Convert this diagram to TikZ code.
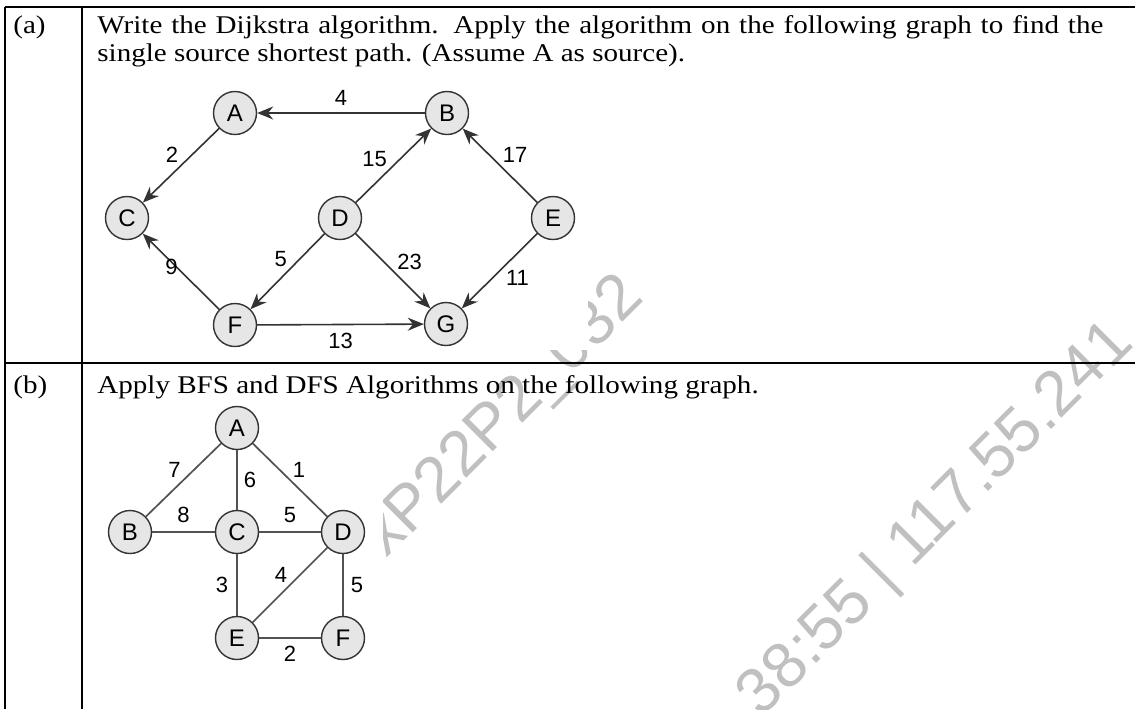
\documentclass[tikz,border=0pt]{standalone}
\usepackage{fontspec}
\setmainfont{Liberation Serif}[FakeStretch=1.14]
\setsansfont{Liberation Sans}
\usetikzlibrary{arrows.meta}
\definecolor{edgegray}{HTML}{333333}
\definecolor{nodefill}{HTML}{E6E6E6}
\definecolor{markgray}{HTML}{C0C0C0}
\tikzset{
  rule/.style={
    draw=black,
    line width=0.9pt
  },
  vertex/.style={
    circle,
    draw=edgegray,
    fill=nodefill,
    line width=0.7pt,
    minimum size=21.5pt,
    inner sep=0pt,
    font=\sffamily\fontsize{12}{14}\selectfont
  },
  diedge/.style={
    draw=edgegray,
    line width=0.8pt,
    -{Stealth[length=8pt,width=6.5pt]}
  },
  undedge/.style={
    draw=edgegray!85,
    line width=0.85pt
  },
  weight/.style={
    inner sep=1pt,
    text=black,
    font=\sffamily\fontsize{11}{13}\selectfont
  },
  question/.style={
    anchor=base west,
    inner sep=0pt,
    font=\fontsize{12.75}{14}\selectfont
  },
  watermark/.style={
    text=markgray,
    rotate=45,
    inner sep=0pt,
    font=\sffamily\fontsize{32}{36}\selectfont
  },
  cover/.style={
    fill=white,
    draw=none
  }
}

\begin{document}
\begin{tikzpicture}[x=0.5pt, y=-0.5pt]
  \useasboundingbox (0,0) rectangle (1135,709);
  \clip (0,0) rectangle (1135,709);

  % watermark behind everything
  \node[watermark] (markleft) at (505,418) {xP22P2\_032};
  \node[watermark] (markright) at (937,520) {38:55 | 117.55.241};

  % white ground of the two figures
  \fill[cover] (98,72) rectangle (588,350);
  \fill[cover] (98,400) rectangle (383,680);

  % table rules
  \draw[rule] (5,7) -- (1135,7);
  \draw[rule] (5,363) -- (1135,363);
  \draw[rule] (5,7) -- (5,709);
  \draw[rule] (82,7) -- (82,709);

  % row (a)
  \node[question] (taga) at (13,33) {(a)};
  \node[question, text width=503pt, align=justify] (texta) at (97,33)
    {Write the Dijkstra algorithm. Apply the algorithm on the following graph to find the\linebreak
     single source shortest path. (Assume A as source).};

  \node[vertex] (dijA) at (235,113) {A};
  \node[vertex] (dijB) at (447,113) {B};
  \node[vertex] (dijC) at (127,218) {C};
  \node[vertex] (dijD) at (340,218) {D};
  \node[vertex] (dijE) at (553,218) {E};
  \node[vertex] (dijF) at (235,325) {F};
  \node[vertex] (dijG) at (446,324) {G};

  \draw[diedge] (dijB) -- node[weight, above=2.5pt] {4} (dijA);
  \draw[diedge] (dijA) -- node[weight, above left] {2} (dijC);
  \draw[diedge] (dijF) -- node[weight, pos=.56, left=-2pt] {9} (dijC);
  \draw[diedge] (dijD) -- node[weight, pos=.47, above left] {5} (dijF);
  \draw[diedge] (dijD) -- node[weight, pos=.45, above left] {15} (dijB);
  \draw[diedge] (dijD) -- node[weight, pos=.52, above right] {23} (dijG);
  \draw[diedge] (dijE) -- node[weight, above right] {17} (dijB);
  \draw[diedge] (dijE) -- node[weight, pos=.45, below right] {11} (dijG);
  \draw[diedge] (dijF) -- node[weight, below=3pt] {13} (dijG);

  % row (b)
  \node[question] (tagb) at (13,393) {(b)};
  \node[question] (textb) at (97,393)
    {Apply BFS and DFS Algorithms on the following graph.};

  \node[vertex] (bfsA) at (237,428) {A};
  \node[vertex] (bfsB) at (130,532) {B};
  \node[vertex] (bfsC) at (237,532) {C};
  \node[vertex] (bfsD) at (343,532) {D};
  \node[vertex] (bfsE) at (237,638) {E};
  \node[vertex] (bfsF) at (343,638) {F};

  \draw[undedge] (bfsA) -- node[weight, above left] {7} (bfsB);
  \draw[undedge] (bfsA) -- node[weight, right=2pt] {6} (bfsC);
  \draw[undedge] (bfsA) -- node[weight, above right] {1} (bfsD);
  \draw[undedge] (bfsB) -- node[weight, above=3pt] {8} (bfsC);
  \draw[undedge] (bfsC) -- node[weight, above=3pt] {5} (bfsD);
  \draw[undedge] (bfsC) -- node[weight, left=3pt] {3} (bfsE);
  \draw[undedge] (bfsD) -- node[weight, above left] {4} (bfsE);
  \draw[undedge] (bfsD) -- node[weight, right=2.5pt] {5} (bfsF);
  \draw[undedge] (bfsE) -- node[weight, below=2.5pt] {2} (bfsF);
\end{tikzpicture}
\end{document}
